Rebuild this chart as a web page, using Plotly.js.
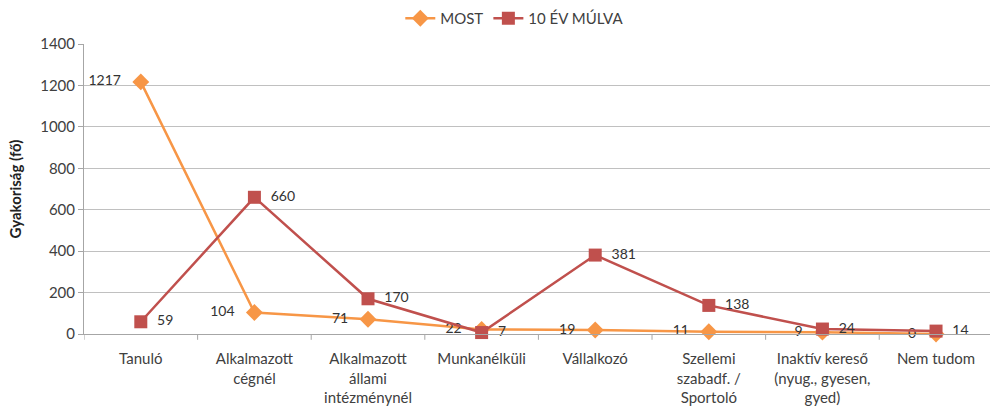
<!DOCTYPE html>
<html><head><meta charset="utf-8">
<script src="https://cdn.plot.ly/plotly-3.0.1.min.js"></script>
<style>html,body{margin:0;padding:0;background:#fff}#c{width:990px;height:410px}</style>
</head><body><div id="c"></div>
<script>
var categories = ["Tanuló","Alkalmazott<br>cégnél","Alkalmazott<br>állami<br>intézménynél","Munkanélküli","Vállalkozó","Szellemi<br>szabadf. /<br>Sportoló","Inaktív kereső<br>(nyug., gyesen,<br>gyed)","Nem tudom"];
var most = [1217,104,71,22,19,11,9,0];
var tizEv = [59,660,170,7,381,138,24,14];
var seriesNames = ["MOST","10 ÉV MÚLVA"];
var yTicks = [0,200,400,600,800,1000,1200,1400];

var idx = categories.map(function(_,i){return i;});
var fnt = "Lato, 'Open Sans', sans-serif";
var traces = [
 {x:idx,y:most,name:seriesNames[0],type:"scatter",mode:"lines+markers+text",
  text:most.map(function(v){return v+"   ";}),textposition:"middle left",
  textfont:{family:fnt,size:14,color:"#333"},
  line:{color:"#F79646",width:2.5},marker:{symbol:"diamond",size:13,color:"#F79646"},cliponaxis:false},
 {x:idx,y:tizEv,name:seriesNames[1],type:"scatter",mode:"lines+markers+text",
  text:tizEv.map(function(v){return "  "+v;}),textposition:"middle right",
  textfont:{family:fnt,size:14,color:"#333"},
  line:{color:"#C0504D",width:2.5},marker:{symbol:"square",size:13,color:"#C0504D"},cliponaxis:false}
];
var layout = {
 width:990,height:410,margin:{l:84,r:0,t:44,b:76},
 paper_bgcolor:"#fff",plot_bgcolor:"#fff",
 font:{family:fnt,size:15,color:"#404040"},
 showlegend:true,
 legend:{orientation:"h",x:0.52,xref:"container",xanchor:"center",y:0.995,yref:"container",yanchor:"top",
   font:{family:fnt,size:15,color:"#404040"},itemwidth:30,tracegroupgap:0},
 xaxis:{type:"linear",range:[-0.5,7.475],tickmode:"array",tickvals:idx,ticktext:categories,
   showgrid:false,zeroline:false,showline:true,linecolor:"#a6a6a6",linewidth:1,
   ticks:"",ticklabelstandoff:11,tickfont:{family:fnt,size:15,color:"#404040"}},
 yaxis:{range:[0,1400],tickmode:"array",tickvals:yTicks,
   showgrid:true,gridcolor:"#c0c0c0",gridwidth:1,zeroline:false,
   showline:true,linecolor:"#a6a6a6",ticks:"outside",ticklen:5,tickcolor:"#a6a6a6",
   tickfont:{family:fnt,size:15,color:"#404040"},
   title:{text:"<b>Gyakoriság (fő)</b>",font:{family:fnt,size:15,color:"#222"},standoff:14}},
 shapes: idx.map(function(i){return {type:"line",xref:"x",yref:"paper",x0:i-0.5,x1:i-0.5,y0:0,y1:-0.02,line:{color:"#a6a6a6",width:1}};})
};
Plotly.newPlot("c",traces,layout,{displayModeBar:false,staticPlot:true});
</script></body></html>
